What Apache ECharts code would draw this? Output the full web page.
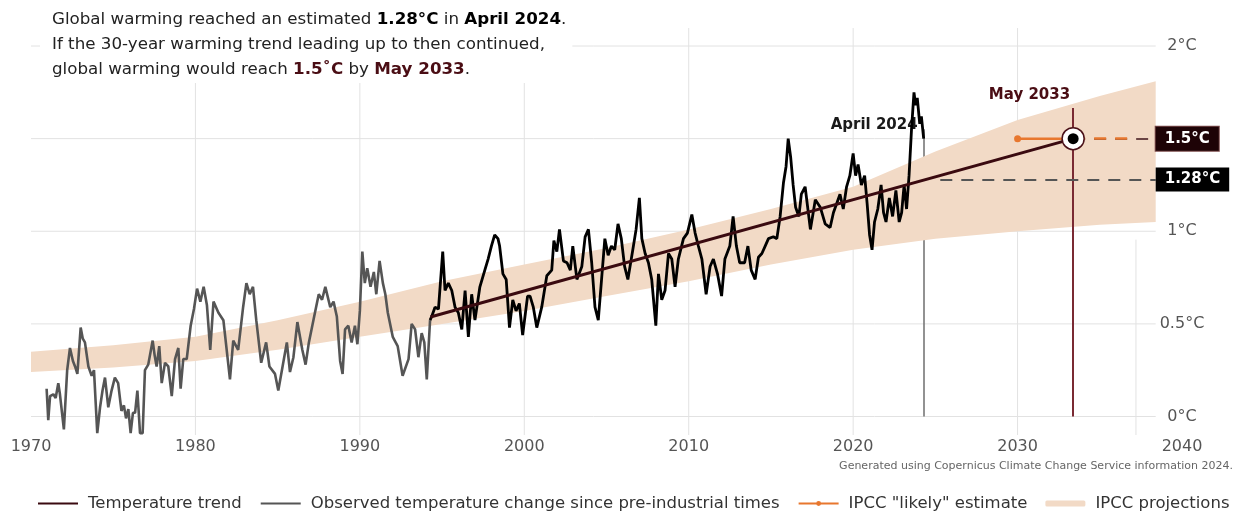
<!DOCTYPE html>
<html>
<head>
<meta charset="utf-8">
<script src="https://cdn.jsdelivr.net/npm/echarts@6/dist/echarts.min.js"></script>
<style>
html,body{margin:0;padding:0;background:#fff;}
#chart{width:1238px;height:514px;}
</style>
</head>
<body>
<div id="chart"></div>
<script>
// ---------------- DATA ----------------
const xTicks = [1970, 1980, 1990, 2000, 2010, 2020, 2030, 2040];
const yTicks = [0, 0.5, 1, 1.5, 2];

// Observed temperature change (pre-1994, grey)
const obsGrayYears = [1970.95,1971.05,1971.16,1971.36,1971.50,1971.66,1971.76,1971.88,1972.00,1972.20,1972.37,1972.55,1972.68,1972.82,1973.02,1973.15,1973.28,1973.49,1973.69,1973.83,1974.03,1974.20,1974.35,1974.50,1974.70,1974.90,1975.10,1975.30,1975.50,1975.65,1975.78,1975.92,1976.06,1976.20,1976.33,1976.47,1976.63,1976.79,1976.93,1977.13,1977.40,1977.52,1977.64,1977.80,1977.95,1978.15,1978.35,1978.56,1978.76,1978.96,1979.10,1979.26,1979.47,1979.71,1979.91,1980.10,1980.30,1980.50,1980.70,1980.90,1981.10,1981.40,1981.70,1982.10,1982.30,1982.60,1982.90,1983.10,1983.30,1983.50,1983.70,1984.00,1984.30,1984.50,1984.84,1985.04,1985.30,1985.56,1985.75,1985.96,1986.20,1986.50,1986.70,1986.90,1987.20,1987.50,1987.70,1987.90,1988.20,1988.40,1988.60,1988.80,1988.95,1989.10,1989.30,1989.50,1989.70,1989.85,1990.00,1990.15,1990.30,1990.45,1990.65,1990.85,1991.00,1991.20,1991.40,1991.55,1991.70,1992.00,1992.30,1992.45,1992.60,1992.96,1993.15,1993.36,1993.56,1993.76,1993.92,1994.07,1994.27];
const obsGrayValues = [0.15,-0.02,0.11,0.12,0.10,0.18,0.12,0.13,-0.07,0.25,0.37,0.30,0.27,0.23,0.48,0.42,0.40,0.27,0.22,0.25,-0.09,0.05,0.14,0.21,0.05,0.14,0.21,0.18,0.03,0.06,-0.01,0.04,-0.09,0.02,0.02,0.14,-0.09,-0.09,0.25,0.28,0.41,0.33,0.27,0.38,0.18,0.29,0.27,0.11,0.31,0.37,0.15,0.31,0.31,0.49,0.58,0.69,0.62,0.70,0.60,0.36,0.62,0.56,0.52,0.20,0.41,0.36,0.59,0.72,0.66,0.70,0.52,0.29,0.40,0.27,0.23,0.14,0.27,0.40,0.24,0.32,0.51,0.36,0.28,0.40,0.53,0.66,0.63,0.70,0.59,0.62,0.54,0.30,0.23,0.47,0.49,0.40,0.49,0.39,0.57,0.89,0.72,0.80,0.70,0.78,0.66,0.84,0.72,0.66,0.56,0.43,0.38,0.30,0.22,0.31,0.50,0.47,0.32,0.45,0.40,0.20,0.52];

// Observed temperature change (last 30 years, black)
const obsBlackYears = [1994.27,1994.37,1994.57,1994.78,1995.04,1995.18,1995.38,1995.59,1995.79,1995.99,1996.20,1996.40,1996.60,1996.80,1997.00,1997.30,1997.60,1997.80,1998.00,1998.20,1998.40,1998.50,1998.70,1998.90,1999.10,1999.30,1999.50,1999.70,1999.90,2000.20,2000.35,2000.55,2000.76,2001.06,2001.37,2001.67,2001.80,2001.98,2002.14,2002.38,2002.60,2002.80,2002.95,2003.20,2003.50,2003.70,2003.90,2004.10,2004.30,2004.50,2004.70,2004.90,2005.10,2005.30,2005.50,2005.70,2005.90,2006.10,2006.30,2006.60,2006.80,2007.00,2007.15,2007.35,2007.55,2007.75,2008.00,2008.16,2008.36,2008.56,2008.77,2008.97,2009.17,2009.37,2009.68,2009.92,2010.19,2010.39,2010.59,2010.80,2011.06,2011.30,2011.50,2011.75,2012.00,2012.20,2012.50,2012.70,2012.90,2013.10,2013.40,2013.60,2013.80,2014.04,2014.24,2014.45,2014.65,2014.85,2015.15,2015.36,2015.56,2015.76,2015.92,2016.05,2016.20,2016.35,2016.50,2016.70,2016.85,2017.08,2017.40,2017.70,2018.00,2018.30,2018.60,2018.80,2019.00,2019.20,2019.40,2019.60,2019.80,2020.00,2020.15,2020.30,2020.50,2020.70,2020.85,2021.00,2021.15,2021.30,2021.50,2021.70,2021.85,2022.00,2022.20,2022.40,2022.60,2022.80,2022.95,2023.10,2023.25,2023.40,2023.55,2023.70,2023.80,2023.90,2024.05,2024.15,2024.29];
const obsBlackValues = [0.52,0.54,0.59,0.58,0.89,0.68,0.72,0.68,0.59,0.56,0.47,0.68,0.43,0.66,0.52,0.70,0.79,0.85,0.92,0.98,0.96,0.92,0.77,0.74,0.48,0.63,0.57,0.61,0.44,0.65,0.65,0.59,0.48,0.59,0.76,0.79,0.95,0.89,1.01,0.84,0.83,0.79,0.92,0.74,0.81,0.97,1.01,0.83,0.59,0.52,0.74,0.96,0.87,0.92,0.90,1.04,0.96,0.81,0.74,0.90,1.01,1.18,0.96,0.88,0.83,0.74,0.49,0.77,0.63,0.68,0.88,0.85,0.70,0.85,0.96,0.99,1.09,0.99,0.92,0.85,0.66,0.81,0.85,0.77,0.65,0.85,0.92,1.08,0.92,0.83,0.83,0.92,0.79,0.74,0.86,0.88,0.92,0.96,0.97,0.96,1.08,1.26,1.35,1.50,1.40,1.25,1.13,1.08,1.20,1.24,1.01,1.17,1.13,1.04,1.02,1.10,1.15,1.20,1.12,1.24,1.30,1.42,1.30,1.36,1.25,1.30,1.15,0.98,0.90,1.05,1.12,1.25,1.10,1.05,1.18,1.08,1.22,1.05,1.10,1.25,1.12,1.30,1.55,1.75,1.68,1.72,1.58,1.62,1.50];

// 30-year temperature trend
const trendYears = [1994.29, 2033.38];
const trendValues = [0.537, 1.5];

// IPCC projections band
const bandYears = [1970, 1975, 1980, 1985, 1990, 1995, 2000, 2005, 2010, 2015, 2020, 2025, 2030, 2035, 2038.4];
const bandUpper = [0.35, 0.385, 0.43, 0.52, 0.62, 0.73, 0.82, 0.91, 1.01, 1.12, 1.24, 1.43, 1.60, 1.73, 1.81];
const bandLower = [0.24, 0.265, 0.30, 0.36, 0.43, 0.50, 0.57, 0.65, 0.73, 0.82, 0.90, 0.96, 1.00, 1.035, 1.05];

// IPCC "likely" estimate
const likelyYears = [2030, 2033.38, 2037];
const likelyValue = 1.5;

// Key values
const aprilYear = 2024.29, aprilValue = 1.28;
const mayYear = 2033.38, mayValue = 1.5;

// ---------------- STYLE ----------------
const FONT = 'DejaVu Sans';
const BAND = '#f2dac6';
const TREND = '#3a0a10';
const GRAY = '#555555';
const ORANGE = '#e8772e';
const GRID = '#e2e2e2';
const GRID_END = 2038.4;

const zip = (xs, ys) => xs.map((x, i) => [x, ys[i]]);

const chart = echarts.init(document.getElementById('chart'));

const TS = 16.7;
const option = {
  animation: false,
  backgroundColor: '#fff',
  title: [
    {
      text: '{n|Global warming reached an estimated }{b|1.28°C}{n| in }{b|April 2024}{n|.}\n' +
            '{n|If the 30-year warming trend leading up to then continued,}\n' +
            '{n|global warming would reach }{r|1.5˚C}{n| by }{r|May 2033}{n|.}',
      left: 40, top: 3,
      backgroundColor: '#fff',
      padding: [4, 6, 1, 12],
      textStyle: {
        fontFamily: FONT, fontSize: TS, lineHeight: 25, fontWeight: 'normal', color: '#222',
        rich: {
          n: { fontFamily: FONT, fontSize: TS, color: '#222', fontWeight: 'normal', lineHeight: 25 },
          b: { fontFamily: FONT, fontSize: TS, color: '#000', fontWeight: 'bold', lineHeight: 25 },
          r: { fontFamily: FONT, fontSize: TS, color: '#4a0d14', fontWeight: 'bold', lineHeight: 25 }
        }
      }
    },
    {
      text: 'Generated using Copernicus Climate Change Service information 2024.',
      right: 5, top: 461, padding: 0,
      textStyle: { fontFamily: FONT, fontSize: 11, fontWeight: 'normal', color: '#666' }
    }
  ],
  legend: {
    left: 37, top: 495, padding: 0,
    itemWidth: 40, itemHeight: 6, itemGap: 18,
    textStyle: { fontFamily: FONT, fontSize: 16.5, color: '#333', padding: [0, 0, 0, 5] },
    data: [
      { name: 'Temperature trend', itemStyle: { opacity: 0 } },
      { name: 'Observed temperature change since pre-industrial times', itemStyle: { opacity: 0 } },
      { name: 'IPCC "likely" estimate' },
      { name: 'IPCC projections' }
    ]
  },
  grid: { left: 31, right: 56, top: 46, bottom: 97.5, containLabel: false },
  xAxis: {
    type: 'value', min: xTicks[0], max: xTicks[xTicks.length - 1], interval: 10,
    axisLine: { show: false }, axisTick: { show: false }, splitLine: { show: false },
    axisLabel: { fontFamily: FONT, fontSize: 16, color: '#555', margin: 22, formatter: v => String(v) }
  },
  yAxis: {
    type: 'value', position: 'right', min: yTicks[0], max: yTicks[yTicks.length - 1], interval: 0.5,
    axisLine: { show: false }, axisTick: { show: false }, splitLine: { show: false },
    axisLabel: {
      fontFamily: FONT, fontSize: 16, color: '#555', margin: 0, align: 'center',
      formatter: v => (v === 1.5 ? '' : v + '°C')
    }
  },
  series: [
    {
      name: 'gridlines', type: 'custom', z: 1, silent: true,
      data: [[1970, 0]],
      renderItem: (params, api) => {
        const children = [];
        yTicks.forEach(v => {
          const a = api.coord([xTicks[0], v]), b = api.coord([GRID_END, v]);
          children.push({ type: 'line', shape: { x1: a[0], y1: a[1], x2: b[0], y2: b[1] }, style: { stroke: GRID, lineWidth: 1 } });
        });
        xTicks.slice(1, -1).forEach(t => {
          const a = api.coord([t, -0.1]), b = api.coord([t, 2.097]);
          children.push({ type: 'line', shape: { x1: a[0], y1: a[1], x2: b[0], y2: b[1] }, style: { stroke: GRID, lineWidth: 1 } });
        });
        const c = api.coord([2037.2, -0.1]), d = api.coord([2037.2, 0.955]);
        children.push({ type: 'line', shape: { x1: c[0], y1: c[1], x2: d[0], y2: d[1] }, style: { stroke: GRID, lineWidth: 1 } });
        return { type: 'group', children };
      }
    },
    {
      name: 'IPCC projections', type: 'custom', z: 2, silent: true,
      itemStyle: { color: BAND },
      data: [[1970, 0]],
      renderItem: (params, api) => {
        const pts = [];
        for (let i = 0; i < bandYears.length; i++) pts.push(api.coord([bandYears[i], bandUpper[i]]));
        for (let i = bandYears.length - 1; i >= 0; i--) pts.push(api.coord([bandYears[i], bandLower[i]]));
        return { type: 'polygon', shape: { points: pts }, style: { fill: BAND } };
      },
      markPoint: {
        z: 2, silent: true, symbol: 'circle', symbolSize: 0,
        data: [
          { coord: [aprilYear, 1.574], label: { show: true, position: 'left', distance: 6, formatter: 'April 2024', fontFamily: FONT, fontSize: 15, fontWeight: 'bold', color: '#1a1a1a' } },
          { coord: [mayYear, 1.735], label: { show: true, position: 'left', distance: 3, formatter: 'May 2033', fontFamily: FONT, fontSize: 15, fontWeight: 'bold', color: '#4a0d14' } }
        ]
      },
      markLine: {
        z: 2, silent: true, symbol: ['none', 'none'],
        data: [
          [{ coord: [aprilYear, 0], lineStyle: { color: '#6e6e6e', width: 1.5, type: 'solid' }, label: { show: false } }, { coord: [aprilYear, 1.55] }]
        ]
      }
    },
    {
      name: 'Observed temperature change since pre-industrial times', type: 'line', z: 3,
      data: zip(obsGrayYears, obsGrayValues), clip: false,
      symbol: 'none', showSymbol: false,
      lineStyle: { color: GRAY, width: 2.6 }, itemStyle: { color: GRAY }
    },
    {
      name: 'Observed temperature change since pre-industrial times', type: 'line', z: 3,
      data: zip(obsBlackYears, obsBlackValues), clip: false,
      symbol: 'none', showSymbol: false,
      lineStyle: { color: '#000', width: 2.8 }, itemStyle: { color: '#000' }
    },
    {
      name: 'Temperature trend', type: 'line', z: 4,
      data: zip(trendYears, trendValues), clip: false,
      symbol: 'none', showSymbol: false,
      lineStyle: { color: TREND, width: 3 }, itemStyle: { color: TREND },
      markLine: {
        z: 5, silent: true, symbol: ['none', 'none'],
        data: [
          [{ coord: [mayYear, 0], lineStyle: { color: '#7a2a33', width: 2, type: 'solid' }, label: { show: false } }, { coord: [mayYear, 1.665] }],
          [{ coord: [2025.3, aprilValue], lineStyle: { color: '#555', width: 2, type: [12, 9] },
             label: { show: true, position: 'end', distance: 0, formatter: '1.28°C', fontFamily: FONT, fontSize: 15, fontWeight: 'bold', color: '#fff', backgroundColor: '#000', padding: [5, 9, 4, 9] } },
           { coord: [GRID_END, aprilValue] }],
          [{ coord: [mayYear, mayValue], lineStyle: { color: '#6b4444', width: 2, type: [12, 9] },
             label: { show: true, position: 'end', distance: 0, formatter: '1.5°C', fontFamily: FONT, fontSize: 15, fontWeight: 'bold', color: '#fff', backgroundColor: '#1e0306', borderColor: '#7a4a4a', borderWidth: 1, padding: [5, 9, 4, 9] } },
           { coord: [GRID_END, mayValue] }]
        ]
      },
      markPoint: {
        z: 10, silent: true,
        data: [
          { coord: [mayYear, mayValue], symbol: 'circle', symbolSize: 22, itemStyle: { color: '#fff', borderColor: '#4a1018', borderWidth: 1.5 }, label: { show: false } },
          { coord: [mayYear, mayValue], symbol: 'circle', symbolSize: 11, itemStyle: { color: '#000' }, label: { show: false } }
        ]
      }
    },
    {
      name: 'IPCC "likely" estimate', type: 'line', z: 6,
      data: [
        { value: [likelyYears[0], likelyValue] },
        { value: [likelyYears[1], likelyValue], symbol: 'none' }
      ],
      clip: false, symbol: 'circle', symbolSize: 7, showSymbol: true,
      lineStyle: { color: ORANGE, width: 2.5 }, itemStyle: { color: ORANGE },
      markLine: {
        z: 7, silent: true, symbol: ['none', 'none'],
        data: [
          [{ coord: [likelyYears[1], likelyValue], lineStyle: { color: ORANGE, width: 2.5, type: [12, 9] }, label: { show: false } },
           { coord: [likelyYears[2], likelyValue] }]
        ]
      }
    }
  ]
};

chart.setOption(option);
</script>
</body>
</html>
